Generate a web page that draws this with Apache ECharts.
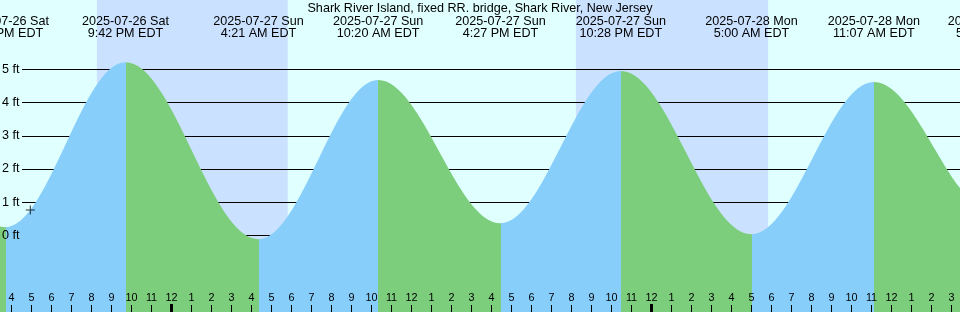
<!DOCTYPE html>
<html>
<head>
<meta charset="UTF-8">
<title>Shark River Island tides</title>
<script src="https://cdn.jsdelivr.net/npm/echarts@6/dist/echarts.min.js"></script>
<style>html,body{margin:0;padding:0;background:#E0FFFF;}</style>
</head>
<body>
<div id="container" style="width:960px;height:312px;"></div>
<script>
// all times are hours counted from 2025-07-27 00:00 EDT
var tideHours = [-14.6, -8.3, -2.3, 4.35, 10.333, 16.45, 22.467, 29.0, 35.117, 41.117, 47.5];
var tideFeet  = [4.5, 0.25, 5.21, -0.11, 4.68, 0.37, 4.95, 0.04, 4.62, 0.7, 4.7];
var tideDates = ['2025-07-26 Sat', '2025-07-26 Sat', '2025-07-26 Sat', '2025-07-27 Sun', '2025-07-27 Sun',
                 '2025-07-27 Sun', '2025-07-27 Sun', '2025-07-28 Mon', '2025-07-28 Mon', '2025-07-28 Mon',
                 '2025-07-28 Mon'];
var tideTimes = ['9:24 AM EDT', '3:42 PM EDT', '9:42 PM EDT', '4:21 AM EDT', '10:20 AM EDT',
                 '4:27 PM EDT', '10:28 PM EDT', '5:00 AM EDT', '11:07 AM EDT', '5:07 PM EDT',
                 '11:30 PM EDT'];
var sunsetHours  = [-3.73, 20.22];
var sunriseHours = [5.81, 29.83];
var nowMark = [-7.06, 0.77];
var ftTicks = [0, 1, 2, 3, 4, 5];
var midnightTicks = [0, 24];

var riseColor = '#87CEFA', fallColor = '#7CCD7C', nightColor = '#CAE1FF';
var font = 'Liberation Sans';

var xMin = -8.575, xMax = xMin + 48;
var yMin = -2.301, yMax = 7.083;

var hourTicks = [];
for (var h = Math.ceil(xMin); h <= xMax; h++) hourTicks.push(h);

var tideData = tideHours.map(function (t, i) { return [t, tideFeet[i]]; });

var pieces = [{lt: tideHours[0], color: fallColor}];
for (var i = 0; i < tideHours.length - 1; i++) {
    pieces.push({gte: tideHours[i], lt: tideHours[i + 1],
                 color: tideFeet[i + 1] > tideFeet[i] ? riseColor : fallColor});
}
pieces.push({gte: tideHours[tideHours.length - 1], color: fallColor});

var nights = sunsetHours.map(function (s, i) {
    return [{xAxis: s}, {xAxis: sunriseHours[i]}];
});

var chart = echarts.init(document.getElementById('container'));
chart.setOption({
    animation: false,
    backgroundColor: '#E0FFFF',
    textStyle: {fontFamily: font},
    title: {
        text: 'Shark River Island, fixed RR. bridge, Shark River, New Jersey',
        left: 'center', top: 2, padding: 0,
        textStyle: {fontFamily: font, fontSize: 12.6, fontWeight: 'normal', color: '#000'}
    },
    grid: [
        {left: 0, right: 0, top: 0, bottom: 0, outerBoundsMode: 'none'},
        {left: 22, right: 0, top: 0, bottom: 0, outerBoundsMode: 'none'},
        {left: 0, top: 0, width: 1040, height: 312, outerBoundsMode: 'none'}
    ],
    visualMap: {show: false, type: 'piecewise', seriesIndex: 0, dimension: 0, pieces: pieces},
    xAxis: [
        {   // hour ticks
            type: 'value', gridIndex: 0, position: 'bottom', min: xMin, max: xMax, z: 3,
            axisLine: {show: false, onZero: false}, splitLine: {show: false},
            axisTick: {inside: true, length: 7, customValues: hourTicks, lineStyle: {color: '#000', width: 1}},
            axisLabel: {
                inside: true, margin: 8.5, customValues: hourTicks,
                fontFamily: font, fontSize: 10.8, color: '#000',
                formatter: function (v) { var d = ((v % 24) + 24) % 24; return String(d % 12 || 12); }
            }
        },
        {   // bold midnight ticks
            type: 'value', gridIndex: 0, position: 'bottom', min: xMin, max: xMax, z: 3,
            axisLine: {show: false, onZero: false}, splitLine: {show: false}, axisLabel: {show: false},
            axisTick: {inside: true, length: 8, customValues: midnightTicks, lineStyle: {color: '#000', width: 3}}
        },
        {type: 'value', gridIndex: 1, min: xMin, max: xMax, show: false},
        {   // high / low labels along the top
            type: 'value', gridIndex: 2, position: 'top', min: xMin, max: xMin + 52, z: 3,
            axisLine: {show: false, onZero: false}, axisTick: {show: false}, splitLine: {show: false},
            axisLabel: {
                inside: true, margin: 15.5, customValues: tideHours,
                fontFamily: font, fontSize: 12.6, lineHeight: 12, color: '#000', align: 'center',
                formatter: function (v) { var k = tideHours.indexOf(v); return tideDates[k] + '\n' + tideTimes[k]; }
            }
        }
    ],
    yAxis: [
        {   // ft labels
            type: 'value', gridIndex: 0, min: yMin, max: yMax, z: 3,
            axisLine: {show: false, onZero: false}, axisTick: {show: false}, splitLine: {show: false},
            axisLabel: {inside: true, margin: 2, customValues: ftTicks, fontFamily: font, fontSize: 12.6,
                        color: '#000', formatter: '{value} ft'}
        },
        {   // ft grid lines, behind the water
            type: 'value', gridIndex: 1, min: yMin, max: yMax, z: 1,
            axisLine: {show: false, onZero: false}, axisLabel: {show: false},
            axisTick: {show: false, customValues: ftTicks},
            splitLine: {show: true, lineStyle: {color: '#000', width: 1}}
        },
        {type: 'value', gridIndex: 2, min: yMin, max: yMax, show: false}
    ],
    series: [
        {
            type: 'line', xAxisIndex: 0, yAxisIndex: 0, z: 2,
            data: tideData,
            smooth: 0.36, smoothMonotone: 'x',
            showSymbol: false, symbol: 'none',
            lineStyle: {width: 0},
            areaStyle: {opacity: 1, origin: 'start'},
            markArea: {z: -1, silent: true, itemStyle: {color: nightColor, opacity: 1}, data: nights}
        },
        {
            type: 'scatter', xAxisIndex: 0, yAxisIndex: 0, z: 4,
            data: [nowMark],
            symbol: 'path://M0,4H9V5H0Z M4,0H5V9H4Z', symbolSize: 9,
            itemStyle: {color: '#000'}
        }
    ]
});
</script>
</body>
</html>
